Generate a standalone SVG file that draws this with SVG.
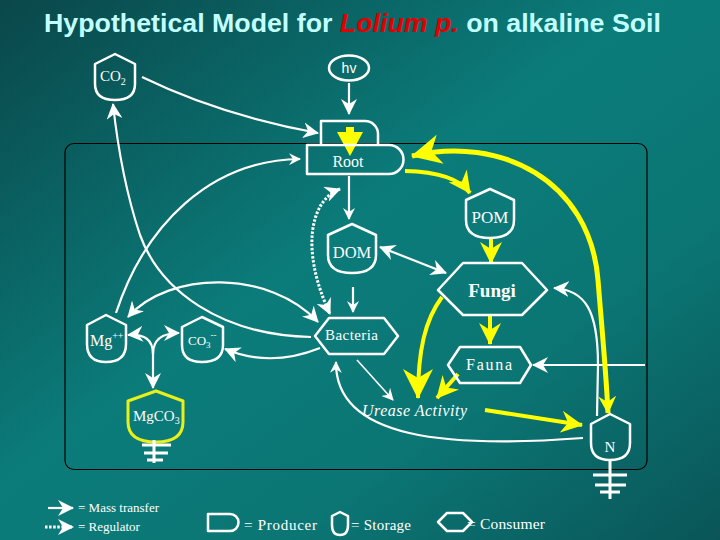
<svg xmlns="http://www.w3.org/2000/svg" width="720" height="540" viewBox="0 0 720 540">
<defs>
<linearGradient id="bg" x1="0" y1="0" x2="1" y2="1">
<stop offset="0" stop-color="#0a474a"/>
<stop offset="0.45" stop-color="#0b7c7a"/>
<stop offset="0.7" stop-color="#0b7674"/>
<stop offset="1" stop-color="#0a5558"/>
</linearGradient>
<marker id="wa" viewBox="0 0 12 12" refX="11" refY="6" markerWidth="12" markerHeight="12" markerUnits="userSpaceOnUse" orient="auto-start-reverse">
<path d="M0,0 L12,6 L0,12 L4,6 Z" fill="#fff"/>
</marker>
<marker id="wl" viewBox="0 0 16 16" refX="15" refY="8" markerWidth="16" markerHeight="16" markerUnits="userSpaceOnUse" orient="auto-start-reverse">
<path d="M0,0 L16,8 L0,16 L5,8 Z" fill="#fff"/>
</marker>
<marker id="yb" viewBox="0 0 30 30" refX="29" refY="15" markerWidth="30" markerHeight="30" markerUnits="userSpaceOnUse" orient="auto-start-reverse">
<path d="M0,0 L30,15 L0,30 L9,15 Z" fill="#ffff00"/>
</marker>
<marker id="ym" viewBox="0 0 22 22" refX="21" refY="11" markerWidth="22" markerHeight="22" markerUnits="userSpaceOnUse" orient="auto-start-reverse">
<path d="M0,0 L22,11 L0,22 L7,11 Z" fill="#ffff00"/>
</marker>
<marker id="ys" viewBox="0 0 18 18" refX="17" refY="9" markerWidth="18" markerHeight="18" markerUnits="userSpaceOnUse" orient="auto-start-reverse">
<path d="M0,0 L18,9 L0,18 L6,9 Z" fill="#ffff00"/>
</marker>
</defs>
<style>
.n{fill:none;stroke:#fff;stroke-width:2.5;stroke-linejoin:round}
.ny{fill:none;stroke:#e8f01a;stroke-width:3;stroke-linejoin:round}
.t{font-family:"Liberation Serif","Times New Roman",serif;fill:#fff}
.w{fill:none;stroke:#fff;stroke-width:2.2}
.wt{fill:none;stroke:#fff;stroke-width:1.6}
.d{fill:none;stroke:#fff;stroke-width:3;stroke-dasharray:2.5 1.6}
.y{fill:none;stroke:#ffff00;stroke-width:4}
.yt{fill:none;stroke:#ffff00;stroke-width:5}
.g{stroke:#fff;stroke-width:3}
</style>
<rect width="720" height="540" fill="url(#bg)"/>
<rect x="65" y="143.5" width="582" height="326" rx="9" fill="none" stroke="#000" stroke-width="1.2"/>
<text x="44" y="32" font-family="Liberation Sans,Arial,sans-serif" font-weight="bold" font-size="25" fill="#c2ffff" textLength="617" lengthAdjust="spacingAndGlyphs">Hypothetical Model for <tspan fill="#e00000" font-style="italic">Lolium p.</tspan> on alkaline Soil</text>

<g id="connectors">
<path class="w" d="M142,77 Q220,115 318,133" marker-end="url(#wl)"/>
<path class="w" d="M349,83 L349,114" marker-end="url(#wl)"/>
<path class="w" d="M311,337 C220,335 160,290 140,235 C125,190 118,150 113,104" marker-end="url(#wl)"/>
<path class="w" d="M116,313 C145,225 210,160 300,159" marker-end="url(#wa)"/>
<path class="w" d="M349,176 L349,219" marker-end="url(#wa)"/>
<path class="w" d="M380,247 L446,273" marker-start="url(#wl)" marker-end="url(#wl)"/>
<path class="w" d="M353,287 L353,312" marker-end="url(#wa)"/>
<path class="w" d="M128,317 C170,270 270,270 318,322" marker-start="url(#wl)" marker-end="url(#wl)"/>
<path class="d" d="M340,189 C310,200 300,250 330,314" marker-start="url(#wl)" marker-end="url(#wl)"/>
<path class="w" d="M320,348 Q270,368 225,349" marker-end="url(#wl)"/>
<path class="w" d="M128,335 Q153,333 153,354" marker-start="url(#wl)"/>
<path class="w" d="M179,333 Q153,333 153,354" marker-start="url(#wl)"/>
<path class="w" d="M153,350 L153,388" marker-end="url(#wl)"/>
<path class="wt" d="M357,360 L393,400" marker-end="url(#wa)"/>
<path class="w" d="M583,438 C450,448 335,440 336,362" marker-end="url(#wa)"/>
<path class="w" d="M597,416 L598,365 C598,310 585,290 554,288" marker-end="url(#wl)"/>
<path class="w" d="M645,365 L533,365" marker-end="url(#wl)"/>

<path class="yt" d="M412,156 C500,135 590,180 598,280 C602,330 606,370 608,413" marker-start="url(#yb)" marker-end="url(#ys)"/>
<path class="y" d="M405,171 Q455,172 470,193" marker-end="url(#ym)"/>
<path class="y" d="M491,238 L491,263" marker-end="url(#ym)"/>
<path class="y" d="M490,316 L490,344" marker-end="url(#ym)"/>
<path class="y" d="M442,297 C425,320 418,350 418,398" marker-end="url(#yb)"/>
<path class="y" d="M458,374 L437,398" marker-end="url(#ym)"/>
<path class="y" d="M485,410 L582,425" marker-end="url(#ym)"/>
<polygon points="346,127 354,127 354,132 363,132 350,156 337,132 346,132" fill="#ffff00"/>
</g>

<g id="hv"><ellipse class="n" cx="349" cy="68" rx="20" ry="12.5"/><text x="349" y="73" text-anchor="middle" font-family="Liberation Sans,Arial,sans-serif" font-size="14" fill="#fff">hv</text></g>
<g id="co2"><path class="n" d="M115,54 L135,64 L135,84 Q135,100 115,100 Q95,100 95,84 L95,64 Z"/><text class="t" x="100" y="81" font-size="15">CO<tspan font-size="10" dy="4">2</tspan></text></g>
<g id="producer"><path class="n" d="M321,145 V121 H365 A13,13 0 0 1 378,134 V145"/></g>
<g id="root"><path class="n" d="M307,145 H389 A14.5,14.5 0 0 1 389,174 H307 Z"/><text class="t" x="348" y="167" font-size="16" text-anchor="middle">Root</text></g>
<g id="pom"><path class="n" d="M490,189 L514,200 L514,220 Q514,238 490,238 Q466,238 466,220 L466,200 Z"/><text class="t" x="490" y="223" font-size="17" text-anchor="middle">POM</text></g>
<g id="dom"><path class="n" d="M352,224 L376,235 L376,255 Q376,273 352,273 Q328,273 328,255 L328,235 Z"/><text class="t" x="352" y="258" font-size="16.5" text-anchor="middle">DOM</text></g>
<g id="fungi"><polygon class="n" points="438,290 463,263 522,263 547,290 522,315 463,315"/><text class="t" x="492" y="297" font-size="19" font-weight="bold" text-anchor="middle">Fungi</text></g>
<g id="fauna"><polygon class="n" points="448,365 460,347 520,347 531,365 520,383 460,383"/><text class="t" x="466" y="370" font-size="16" textLength="46">Fauna</text></g>
<g id="bacteria"><polygon class="n" points="315,336 329,318 384,318 398,336 384,354 329,354"/><text class="t" x="325" y="340" font-size="15" textLength="53">Bacteria</text></g>
<g id="mg"><path class="n" d="M106,315 L126,325 L126,344 Q126,362 106,362 Q87,362 87,344 L87,325 Z"/><text class="t" x="90" y="346" font-size="16">Mg<tspan font-size="10" dy="-7">++</tspan></text></g>
<g id="co3"><path class="n" d="M202,317 L223,327 L223,345 Q223,362 202,362 Q182,362 182,345 L182,327 Z"/><text class="t" x="188" y="345" font-size="13">CO<tspan font-size="9" dy="3">3</tspan><tspan font-size="9" dy="-10">--</tspan></text></g>
<g id="mgco3"><path class="ny" d="M156,391 L183,401 L183,422 Q183,442 156,442 Q128,442 128,422 L128,401 Z"/><text class="t" x="133" y="421" font-size="15">MgCO<tspan font-size="10" dy="3">3</tspan></text>
<path class="g" d="M154,440 V463 M142,445 H171 M144,453 H168 M147,460 H163"/></g>
<g id="n"><path class="n" d="M610,414 L630,424 L630,443 Q630,460 610,460 Q591,460 591,443 L591,424 Z"/><text class="t" x="610" y="452" font-size="15" text-anchor="middle">N</text>
<path class="g" d="M610,460 V499 M593,475 H627 M595,485 H626 M600,492 H620"/></g>
<text class="t" x="362" y="416" font-size="16" font-style="italic" textLength="105">Urease Activity</text>

<g id="legend">
<path class="w" d="M48,508 L73,508" marker-end="url(#wl)"/>
<text class="t" x="78" y="512" font-size="13">= Mass transfer</text>
<path class="d" d="M45,527 L73,527" marker-end="url(#wl)"/>
<text class="t" x="78" y="531" font-size="13">= Regulator</text>
<path class="n" d="M208,514 H230 A8.5,8.5 0 0 1 230,531 H208 Z"/>
<text class="t" x="244" y="530" font-size="15" textLength="73">= Producer</text>
<path class="n" d="M340,512 L348,516 L348,525 Q348,535 340,535 Q332,535 332,525 L332,516 Z"/>
<text class="t" x="351" y="530" font-size="15" textLength="60">= Storage</text>
<polygon class="n" points="438,522 447,513 463,513 472,522 463,531 447,531"/>
<text class="t" x="467" y="529" font-size="15.5" textLength="78">= Consumer</text>
</g>
</svg>
